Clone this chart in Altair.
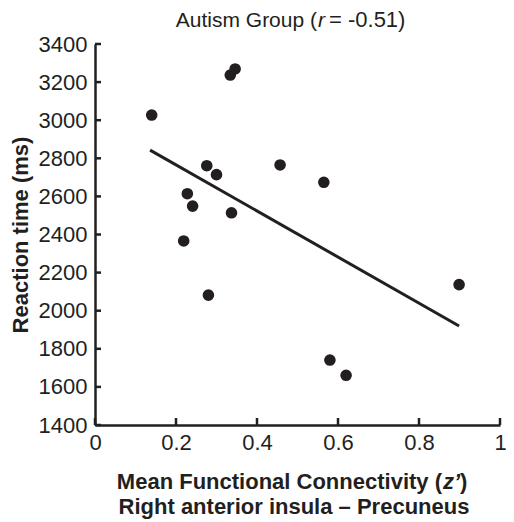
import altair as alt
import pandas as pd

# Data
conn_x = [0.140, 0.334, 0.346, 0.276, 0.300, 0.228, 0.241, 0.337, 0.219, 0.280,
          0.457, 0.565, 0.899, 0.580, 0.620]
rt_y = [3027, 3237, 3269, 2761, 2714, 2614, 2549, 2514, 2366, 2082,
        2765, 2674, 2137, 1741, 1661]

fit_x = [0.136, 0.899]
fit_y = [2843, 1920]

x_ticks = [0, 0.2, 0.4, 0.6, 0.8, 1.0]
y_ticks = [1400, 1600, 1800, 2000, 2200, 2400, 2600, 2800, 3000, 3200, 3400]

FONT = "Liberation Sans"
INK = "#231f20"
W, H = 405, 381

pts = pd.DataFrame({"x": conn_x, "y": rt_y})
fit = pd.DataFrame({"x": fit_x, "y": fit_y})
xt = pd.DataFrame({"tx": x_ticks})
yt = pd.DataFrame({"ty": y_ticks})

xs = alt.Scale(domain=[0, 1], nice=False, zero=False)
ys = alt.Scale(domain=[1400, 3400], nice=False, zero=False)

x_axis = alt.Axis(
    values=x_ticks, format=".1~f", ticks=False, grid=False,
    domain=True, domainColor=INK, domainWidth=2.5,
    labelFont=FONT, labelFontSize=22, labelColor=INK, labelPadding=7,
    labelFlush=False, title=None)
y_axis = alt.Axis(
    values=y_ticks, format="d", ticks=False, grid=False,
    domain=True, domainColor=INK, domainWidth=2.5,
    labelFont=FONT, labelFontSize=22, labelColor=INK, labelPadding=8,
    labelFlush=False, title="Reaction time (ms)", titleFont=FONT,
    titleFontSize=22, titleFontWeight="bold", titleColor=INK,
    titlePadding=6)

X = alt.X("x:Q", scale=xs, axis=x_axis)
Y = alt.Y("y:Q", scale=ys, axis=y_axis)

points = alt.Chart(pts).mark_circle(size=135, color=INK, opacity=1).encode(x=X, y=Y)

line = alt.Chart(fit).mark_line(color=INK, strokeWidth=3).encode(x=X, y=Y)

xtick_marks = alt.Chart(xt).mark_rule(color=INK, strokeWidth=2.5).encode(
    x=alt.X("tx:Q", scale=xs, axis=x_axis), y=alt.value(H), y2=alt.value(H - 7))

ytick_marks = alt.Chart(yt).mark_rule(color=INK, strokeWidth=2.5).encode(
    y=alt.Y("ty:Q", scale=ys, axis=y_axis), x=alt.value(0), x2=alt.value(6))

def txt(s, x, y, align, weight="normal", style="normal", size=21):
    return alt.Chart(pd.DataFrame({"t": [s]})).mark_text(
        font=FONT, fontSize=size, fontWeight=weight, fontStyle=style,
        color=INK, align=align, baseline="alphabetic"
    ).encode(text="t:N", x=alt.value(x), y=alt.value(y))

TY = -17
title_parts = [
    txt("Autism Group (", 222, TY, "right"),
    txt("r", 223, TY, "left", style="italic"),
    txt("= -0.51)", 234, TY, "left", size=22),
]

xtitle_parts = [
    txt("Mean Functional Connectivity (", 347, H + 64, "right", weight="bold", size=22),
    txt("z’", 348, H + 64, "left", weight="bold", style="italic", size=22),
    txt(")", 365, H + 64, "left", weight="bold", size=22),
    txt("Right anterior insula – Precuneus", 199, H + 89, "center", weight="bold", size=22),
]

chart = alt.layer(points, line, xtick_marks, ytick_marks, *title_parts, *xtitle_parts).properties(
    width=W, height=H,
    autosize=alt.AutoSizeParams(type="none"),
    padding={"left": 87, "top": 36, "right": 6, "bottom": 96},
).configure_view(stroke=None)

chart.save("out.html", embed_options={"renderer": "svg", "actions": False})
